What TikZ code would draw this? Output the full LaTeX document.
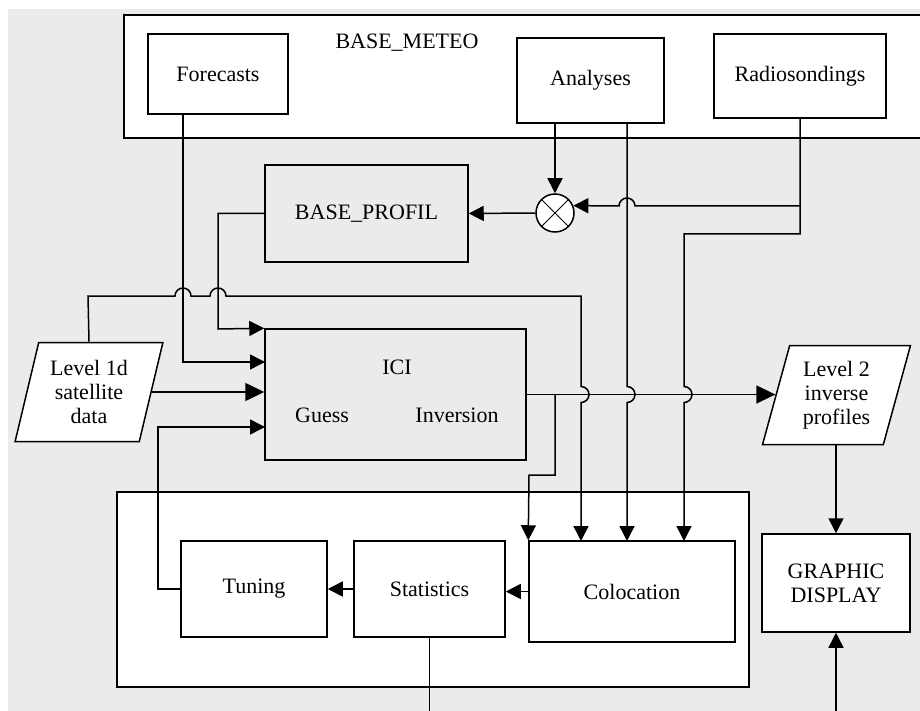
\documentclass[tikz,border=0pt]{standalone}
\usepackage{fontspec}
\setmainfont{Liberation Serif}
\usetikzlibrary{calc,arrows.meta,shapes.geometric}
\definecolor{panelgray}{HTML}{EBEBEB}
\tikzset{
	% ------- every something
	every path/.style={
		line width=1.5pt,
	},
	every node/.style={
		font=\fontsize{22}{24}\selectfont,
	},
	% ------- custom
	flow/.style={
		-{Triangle[length=15pt,width=15pt]},
	},
	big flow/.style={
		-{Triangle[length=19pt,width=18pt]},
	},
	block/.style={
		draw, fill=white, inner sep=0pt, align=center,
	},
	plainblock/.style={
		draw, inner sep=0pt, align=center,
	},
	data/.style={
		trapezium, trapezium left angle=74, trapezium right angle=106,
		trapezium stretches=true,
		draw, fill=white, inner sep=0pt, align=center,
		minimum width=148pt, minimum height=99pt,
	},
	mixer/.style={
		circle, draw, fill=white, minimum size=38pt, inner sep=0pt,
		path picture={
			\draw[line width=0.9pt]
				(path picture bounding box.north west) -- (path picture bounding box.south east)
				(path picture bounding box.north east) -- (path picture bounding box.south west);
		},
	},
	frame/.style={
		draw, fill=white,
	},
}

\begin{document}
\begin{tikzpicture}[x=1pt, y=-1pt]

% canvas %{{{1

	\useasboundingbox (0,0) rectangle (920,711);
	\fill[panelgray] (8,9) rectangle (920,711);

% frames %{{{1

	\fill[white] (124,15) rectangle (920,138);
	\draw (920,15) -- (124,15) -- (124,138) -- (920,138);
	\draw[frame] (117,492) rectangle (749,687);

% blocks %{{{1

	\node (meteo) at (407,43) {BASE\_METEO};
	\node[block, minimum width=140pt, minimum height=80pt] (fc) at (218,74) {Forecasts};
	\node[block, minimum width=147pt, minimum height=85pt] (an) at (590.5,80.5) {Analyses};
	\node[block, minimum width=172pt, minimum height=84pt] (rs) at (800,76) {Radiosondings};

	\node[plainblock, minimum width=203pt, minimum height=97pt] (bp) at (366.5,213.5) {BASE\_PROFIL};
	\node[mixer] (mix) at (555,213) {};

	\node[data] (lone) at (89,392) {Level 1d\\satellite\\data};
	\node[plainblock, minimum width=261pt, minimum height=131pt] (ici) at (395.5,394.5) {};
	\node (icitxt) at (397,367) {ICI};
	\node (guess) at (322,415) {Guess};
	\node (inv) at (457,415) {Inversion};
	\node[data] (ltwo) at (836.5,395) {Level 2\\inverse\\profiles};

	\node[block, minimum width=206pt, minimum height=101pt] (col) at (632,591.5) {Colocation};
	\node[block, minimum width=151pt, minimum height=96pt] (stat) at (429.5,589) {Statistics};
	\node[block, minimum width=146pt, minimum height=96pt] (tun) at (254,589) {Tuning};
	\node[block, minimum width=148pt, minimum height=98pt] (gd) at (836,583) {GRAPHIC\\DISPLAY};

% coordinates %{{{1

	\coordinate (iciF) at (265,362);
	\coordinate (iciT) at (265,427);
	\coordinate (colL) at (581,541);
	\coordinate (colA) at (627,541);
	\coordinate (colR) at (684,541);
	\coordinate (brI) at (555,394.5);
	\coordinate (statOut) at (429.5,711);
	\coordinate (gdIn) at (836,711);

% connectors %{{{1

	% meteo base
	\draw[flow] ($(fc.south)+(-35,0)$) |- (iciF);
	\draw[flow] (mix.north |- an.south) -- (mix.north);
	\draw[flow] (colA |- an.south) -- (627,386.5)
		arc[start angle=90, end angle=-90, radius=8pt] -- (colA);
	\draw[flow] (rs.south) -- (800,234) -- (684,234) -- (684,386.5)
		arc[start angle=90, end angle=-90, radius=8pt] -- (colR);
	\draw[flow] (800,206) -- (635,206)
		arc[start angle=0, end angle=180, radius=8pt] -- (mix.22);
	\draw[flow] (mix.west) -- (bp.east);
	\draw[flow] (bp.west) -| (218,329) -- (ici.north west);

	% level 1d
	\draw[flow] (lone.center |- lone.north) -- (88,296) -- (175,296)
		arc[start angle=180, end angle=0, radius=8pt] -- (210,296)
		arc[start angle=180, end angle=0, radius=8pt] -- (581,296) -- (581,386.5)
		arc[start angle=90, end angle=-90, radius=8pt] -- (colL);
	\draw[big flow] (lone.east) -- (lone.east -| ici.west);

	% ici output
	\draw[big flow] (ici.east) -- (ici.east -| ltwo.west);
	\draw[flow] (brI) -- (555,475) -- (529,475) -- (col.north west);

	% loop
	\draw[flow] (col.west) -- (col.west -| stat.east);
	\draw[flow] (stat.west) -- (stat.west -| tun.east);
	\draw[flow] (tun.west) -- (158,589) -- (158,427) -- (iciT);
	\draw (stat.south) -- (statOut);

	% display
	\draw[flow] (gd.north |- ltwo.south) -- (gd.north);
	\draw[flow] (gdIn) -- (gd.south);

% closing %{{{1

\end{tikzpicture}
\end{document}
